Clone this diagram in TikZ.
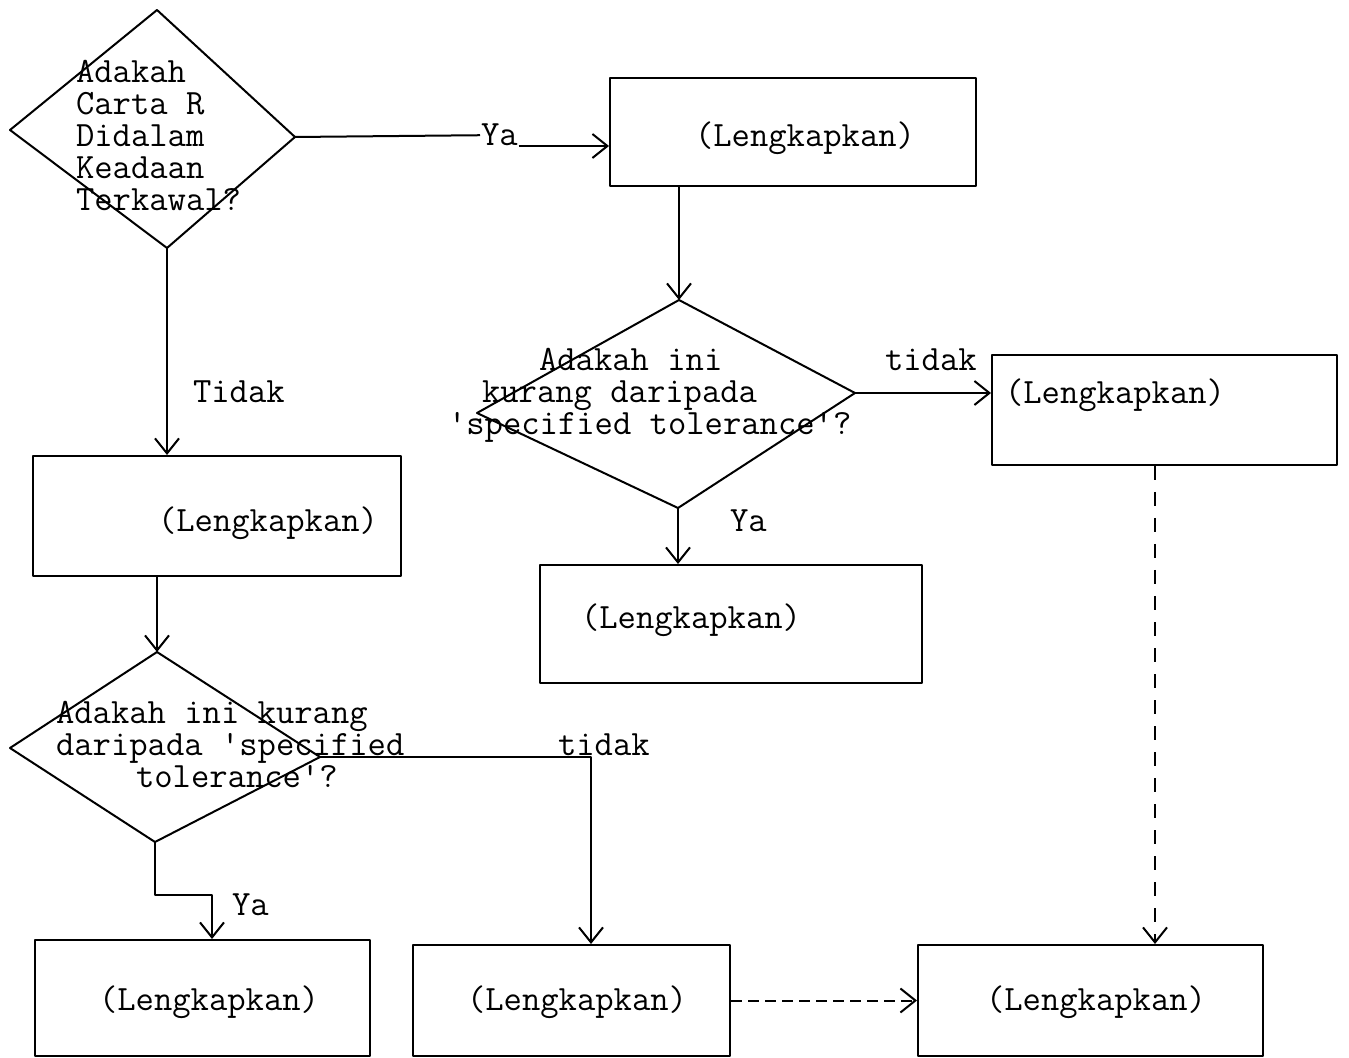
\documentclass[tikz,border=0pt]{standalone}
\usetikzlibrary{arrows.meta}
\tikzset{
  lbl/.style={inner sep=0pt, anchor=base west, font=\ttfamily\fontsize{17.8}{16}\selectfont},
  multi/.style={lbl, align=left},
  boxnode/.style={draw, rectangle, inner sep=0pt},
  arr/.style={-{Straight Barb[length=7.5pt,width=12pt,line width=1pt]}},
  vdash/.style={dash pattern=on 7pt off 6pt},
  hdash/.style={dash pattern=on 5.5pt off 3pt},
}
\begin{document}
\begin{tikzpicture}[x=0.5pt,y=-0.5pt,line width=1pt,line join=round]
\useasboundingbox (0,0) rectangle (1349,1058);
% diamond 1
\coordinate (d1t) at (157,10);
\coordinate (d1r) at (295,137);
\coordinate (d1b) at (167,248);
\coordinate (d1l) at (10,130);
\draw (d1t) -- (d1r) -- (d1b) -- (d1l) -- cycle;
\node[multi] (t1) at (75,211) {Adakah\\Carta R\\Didalam\\Keadaan\\Terkawal?};
% diamond 2
\coordinate (d2t) at (679,300);
\coordinate (d2r) at (855,393);
\coordinate (d2b) at (678,508);
\coordinate (d2l) at (477,413);
\draw (d2t) -- (d2r) -- (d2b) -- (d2l) -- cycle;
\node[multi] (t2) at (447,435) {\hspace*{45.5pt}Adakah ini\\\hspace*{17pt}kurang daripada\\'specified tolerance'?};
% diamond 3
\coordinate (d3t) at (157,652);
\coordinate (d3r) at (320,757);
\coordinate (d3b) at (155,842);
\coordinate (d3l) at (10,748);
\draw (d3t) -- (d3r) -- (d3b) -- (d3l) -- cycle;
\node[multi] (t3) at (55,787) {Adakah ini kurang\\daripada 'specified\\\hspace*{40pt}tolerance'?};
% boxes
\node[boxnode, minimum width=183pt, minimum height=54pt] (bA) at (793,132) {};
\node[boxnode, minimum width=184pt, minimum height=60pt] (bB) at (217,516) {};
\node[boxnode, minimum width=172.5pt, minimum height=55pt] (bC) at (1164.5,410) {};
\node[boxnode, minimum width=191pt, minimum height=59pt] (bD) at (731,624) {};
\node[boxnode, minimum width=167.5pt, minimum height=58pt] (bG) at (202.5,998) {};
\node[boxnode, minimum width=158.5pt, minimum height=55.5pt] (bE) at (571.5,1000.5) {};
\node[boxnode, minimum width=172.5pt, minimum height=55.5pt] (bF) at (1090.5,1000.5) {};
\node[lbl] (tA) at (694,147) {(Lengkapkan)};
\node[lbl] (tB) at (157,532) {(Lengkapkan)};
\node[lbl] (tC) at (1004,404) {(Lengkapkan)};
\node[lbl] (tD) at (580,628) {(Lengkapkan)};
\node[lbl] (tG) at (98,1010) {(Lengkapkan)};
\node[lbl] (tE) at (466,1010) {(Lengkapkan)};
\node[lbl] (tF) at (985,1010) {(Lengkapkan)};
% labels
\node[lbl] (ya1) at (480,146) {Ya};
\node[lbl] (tidak1) at (884,371) {tidak};
\node[lbl] (ya2) at (729,532) {Ya};
\node[lbl] (tidak0) at (192,403) {Tidak};
\node[lbl] (tidak2) at (557,755) {tidak};
\node[lbl] (ya3) at (231,915) {Ya};
% connectors
\draw (d1r) -- (ya1.west);
\draw[arr] (ya1.base east) -- (bA.west |- ya1.base east);
\draw[arr] (d2t |- bA.south) -- (d2t);
\draw[arr] (d2r) -- (d2r -| bC.west);
\draw[arr] (d2b) -- (d2b |- bD.north);
\coordinate (cdash) at (1155,0);
\draw[arr,vdash] (cdash |- bC.south) -- (cdash |- bF.north);
\draw[arr] (d1b) -- (d1b |- bB.north);
\draw[arr] (d3t |- bB.south) -- (d3t);
\coordinate (ctid) at (591,757);
\draw[arr] (d3r) -- (ctid) -- (ctid |- bE.north);
\coordinate (cya) at (212,895);
\draw[arr] (d3b) |- (cya) -- (cya |- bG.north);
\draw[arr,hdash] (bE.east) -- (bF.west);
\end{tikzpicture}
\end{document}
